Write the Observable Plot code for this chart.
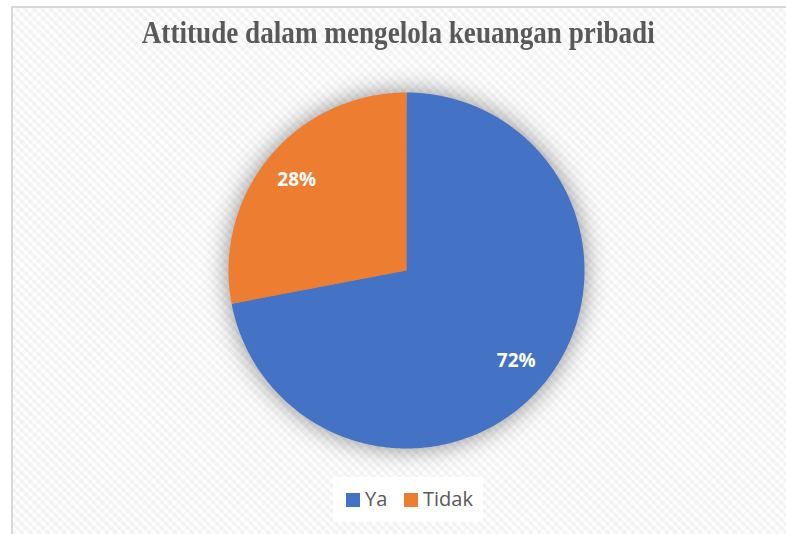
<!DOCTYPE html>
<html>
<head>
<meta charset="utf-8">
<script src="https://cdn.jsdelivr.net/npm/d3@7"></script>
<script src="https://cdn.jsdelivr.net/npm/@observablehq/plot@0.6"></script>
<style>
  html, body { margin: 0; padding: 0; background: #ffffff; overflow: hidden; }
  #wrap { position: relative; width: 786px; height: 534px; overflow: hidden; background: #fff; }
  #frame { position: absolute; left: 11px; top: 6px; width: 775px; height: 528px;
    border-top: 2px solid #d9d9d9; border-left: 2px solid #d9d9d9; box-sizing: border-box;
    background-color: #ffffff;
    background-image:
      repeating-linear-gradient(45deg, rgba(0,0,0,0.035) 0 3px, rgba(0,0,0,0) 3px 6px),
      repeating-linear-gradient(-45deg, rgba(0,0,0,0.02) 0 3px, rgba(0,0,0,0) 3px 6px);
  }
  #plot { position: absolute; left: 0; top: 0; }
  #title { position: absolute; top: 14px; left: 0; width: 797px; text-align: center;
    font-family: "Liberation Serif", "Times New Roman", serif; font-weight: bold; font-size: 32px;
    color: #595959; white-space: nowrap; }
  #title span { display: inline-block; transform-origin: center; }
  #legend { position: absolute; left: 333px; top: 477px; width: 150px; height: 45px; background: #fff;
    font-family: "Open Sans", sans-serif; font-size: 20px; color: #595959; }
  .item { position: absolute; top: 9px; line-height: 26px; }
  .sw { display: inline-block; width: 14px; height: 14px; margin-right: 5px; vertical-align: -1px; }
</style>
</head>
<body>
<div id="wrap">
  <div id="frame"></div>
  <div id="plot"></div>
  <div id="title"><span>Attitude dalam mengelola keuangan pribadi</span></div>
  <div id="legend"></div>
</div>
<script>
const categories = ["Ya", "Tidak"];
const values = [72, 28];
const colors = ["#4472c4", "#ed7d31"];
const labels = ["72%", "28%"];

const total = d3.sum(values);
const polys = [];
const labelPts = [];
let start = 0;
categories.forEach((c, i) => {
  const a0 = start / total * 2 * Math.PI;
  const a1 = (start + values[i]) / total * 2 * Math.PI;
  polys.push({k: c, x: 0, y: 0});
  const n = Math.max(2, Math.ceil((a1 - a0) / (Math.PI / 360)));
  for (let j = 0; j <= n; j++) {
    const a = a0 + (a1 - a0) * j / n;
    polys.push({k: c, x: Math.sin(a), y: Math.cos(a)});
  }
  polys.push({k: c, x: 0, y: 0});
  const am = (a0 + a1) / 2;
  labelPts.push({k: c, t: labels[i], x: 0.8 * Math.sin(am), y: 0.8 * Math.cos(am)});
  start += values[i];
});

const plot = Plot.plot({
  width: 786,
  height: 534,
  margin: 0,
  x: {domain: [-1, 1], range: [228, 584], axis: null},
  y: {domain: [-1, 1], range: [448, 92], axis: null},
  color: {domain: categories, range: colors},
  style: {background: "transparent", overflow: "visible"},
  marks: [
    Plot.line(polys, {x: "x", y: "y", z: "k", fill: "k", stroke: "none", curve: "linear"}),
    Plot.text(labelPts, {x: "x", y: "y", text: "t", fill: "white", fontSize: 19, fontWeight: "bold",
      fontFamily: "Open Sans, sans-serif"})
  ]
});
d3.select(plot).selectAll("g[aria-label='line']").style("filter", "drop-shadow(0px 0px 12px rgba(0,0,0,0.45))");
document.getElementById("plot").appendChild(plot);

// legend
const lg = document.getElementById("legend");
const lefts = [13, 71];
categories.forEach((c, i) => {
  const d = document.createElement("div");
  d.className = "item";
  d.style.left = lefts[i] + "px";
  d.innerHTML = `<span class="sw" style="background:${colors[i]}"></span>${c}`;
  lg.appendChild(d);
});

// fit title width
const sp = document.querySelector("#title span");
const w = sp.getBoundingClientRect().width;
sp.style.transform = `scaleX(${513 / w})`;
</script>
</body>
</html>
